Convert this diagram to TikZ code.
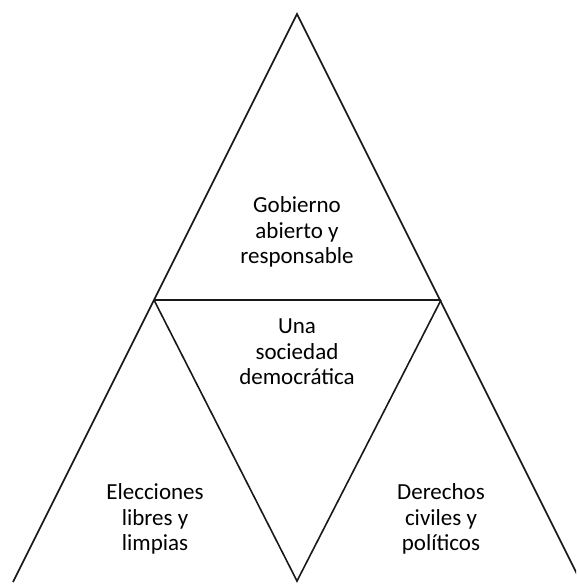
\documentclass[tikz,border=0pt]{standalone}
\usepackage{fontspec}
\setmainfont{Carlito}
\begin{document}
\begin{tikzpicture}[x=1pt,y=-1pt,
  edge/.style={draw=black!90,line width=1.6pt,line join=miter},
  lbl/.style={align=center,font=\fontsize{23}{25.5}\selectfont,inner sep=0pt}]
\useasboundingbox (0,0) rectangle (576,584);
\clip (0,0) rectangle (576,584);
\coordinate (A) at (297,14);
\coordinate (ML) at (154,300);
\coordinate (MR) at (441,300);
\coordinate (BL) at (13,582);
\coordinate (BR) at (581,582);
\coordinate (BM) at (297,581);
\draw[edge] (BL) -- (A) -- (BR);
\draw[edge] (ML) -- (MR);
\draw[edge] (ML) -- (BM) -- (MR);
\node[lbl] (top) at (297,232) {Gobierno\\abierto y\\responsable};
\node[lbl] (mid) at (297,352) {Una\\sociedad\\democrática};
\node[lbl] (left) at (155,519) {Elecciones\\libres y\\limpias};
\node[lbl] (right) at (441,519) {Derechos\\civiles y\\políticos};
\end{tikzpicture}
\end{document}
